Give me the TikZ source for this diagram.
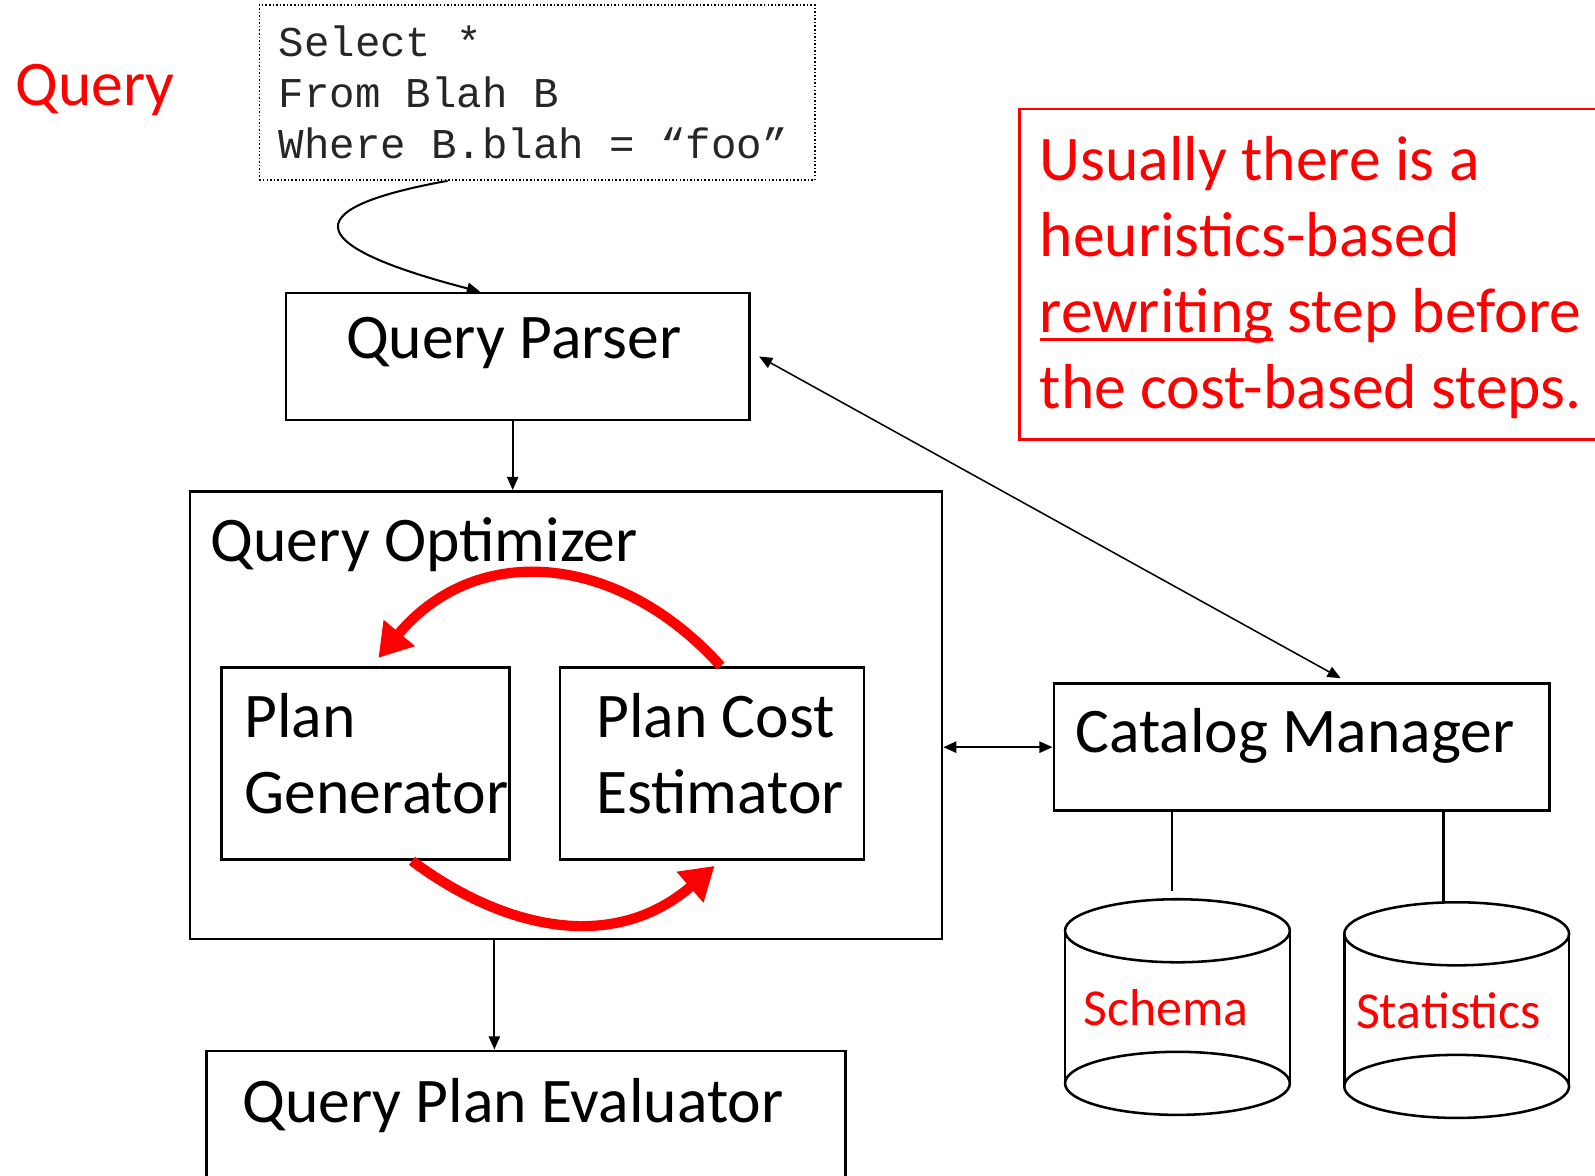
\documentclass[tikz,border=0pt]{standalone}
\usepackage{fontspec}
\setmainfont{Carlito}
\newfontfamily\codefont[WordSpace={1,0,0}]{Liberation Mono}
\usetikzlibrary{arrows.meta, positioning}

\newcommand{\ulred}[1]{\setbox0\hbox{#1}\rlap{\rule[-8pt]{\wd0}{3pt}}\box0{}}

\begin{document}
\begin{tikzpicture}[
    x=1pt, y=-1pt,
    node distance=47pt,
    box/.style={draw, line width=2.5pt, inner sep=0pt},
    lbl/.style={inner sep=0pt, anchor=base west, font=\fontsize{62.5}{75}\selectfont},
    redlbl/.style={lbl, text=red},
    dblbl/.style={inner sep=0pt, anchor=base west, text=red, font=\fontsize{51}{60}\selectfont},
    arr/.style={-{Triangle[length=13pt,width=11pt]}, line width=2pt},
    dblarr/.style={{Triangle[length=13pt,width=11pt]}-{Triangle[length=13pt,width=11pt]}, line width=2pt},
    redarr/.style={-{Triangle[length=32pt,width=38pt]}, line width=10pt, red}
  ]
  \useasboundingbox (0,0) rectangle (1568,1156);

  % Query text
  \node[redlbl] (qlabel) at (15,104) {Query};
  \node[draw, dotted, line width=1.5pt, inner xsep=19pt, inner ysep=0pt, text width=508pt,
        minimum height=172pt, align=flush left, text=black!85,
        font=\codefont\fontsize{41.7}{50}\selectfont] (sql) at (528,91)
        {Select *\\From Blah B\\Where B.blah = “foo”};

  % Parser
  \node[box, minimum width=456pt, minimum height=125pt] (parser) at (509,350.5) {};
  \node[lbl] (parser-t) at (340,352) {Query Parser};
  \draw[arr] ([xshift=-88pt]sql.south) .. controls (262,210) and (330,250) .. ([xshift=-37pt]parser.north);

  % Optimizer
  \node[box, minimum width=739pt, minimum height=440pt] (optimizer) at (556.5,703) {};
  \node[lbl] (optimizer-t) at (207,552) {Query Optimizer};
  \node[box, minimum width=283pt, minimum height=189pt] (gen) at (359.5,750.5) {};
  \node[box, minimum width=299pt, minimum height=189pt, right=of gen] (cost) {};
  \node[lbl, align=left] (gen-t) at (240,800) {Plan\\Generator};
  \node[lbl, align=left] (cost-t) at (586,800) {Plan Cost\\Estimator};
  \coordinate (p-out) at ([xshift=-5pt]parser.south);
  \draw[arr] (p-out) -- (p-out |- optimizer.north);

  % Generate / estimate loop
  \draw[redarr] ([xshift=8.5pt]cost.north) .. controls (610,545) and (470,530) .. ([xshift=12.5pt,yshift=8pt]gen.north);
  \draw[redarr] ([xshift=45.5pt]gen.south) .. controls (490,910) and (600,940) .. ([xshift=2.5pt,yshift=-5pt]cost.south);

  % Catalog
  \node[box, minimum width=487pt, minimum height=125pt] (catalog) at (1279.5,734.5) {};
  \node[lbl] (catalog-t) at (1057,740) {Catalog Manager};
  \draw[dblarr] (catalog.west -| optimizer.east) -- (catalog.west);
  \draw[dblarr, line width=1.5pt] ([xshift=8pt]parser.east) -- ([xshift=38.5pt,yshift=4pt]catalog.north);

  % Evaluator
  \node[box, minimum width=628pt, minimum height=140pt] (eval) at (517,1103) {};
  \node[lbl] (eval-t) at (238,1103) {Query Plan Evaluator};
  \coordinate (o-out) at ([xshift=-70.5pt]optimizer.south);
  \draw[arr] (o-out) -- (o-out |- eval.north);

  % Databases
  \foreach \cx/\ty in {1157.5/915, 1432/918} {
      \draw[line width=2.5pt] (\cx,\ty) ellipse [x radius=110.5pt, y radius=31pt];
      \draw[line width=2.5pt] (\cx,\ty+150) ellipse [x radius=110.5pt, y radius=31pt];
      \draw[line width=2.5pt] (\cx-110.5,\ty) -- (\cx-110.5,\ty+150)
                              (\cx+110.5,\ty) -- (\cx+110.5,\ty+150);
    }
  \node[dblbl] (schema) at (1065,1008) {Schema};
  \node[dblbl] (stats) at (1333,1011) {Statistics};
  \coordinate (schema-top) at (1152,876);
  \coordinate (stats-top) at (1419,887);
  \draw[line width=2.5pt] (catalog.south -| schema-top) -- (schema-top);
  \draw[line width=2.5pt] (catalog.south -| stats-top) -- (stats-top);

  % Note
  \node[draw=red, line width=2.5pt, inner sep=0pt, minimum width=580pt, minimum height=325pt] (note) at (1292,269.5) {};
  \node[redlbl, align=left] (note-t) at (1022,402)
        {Usually there is a\\heuristics-based\\\ulred{rewriting} step before\\the cost-based steps.};
\end{tikzpicture}
\end{document}
